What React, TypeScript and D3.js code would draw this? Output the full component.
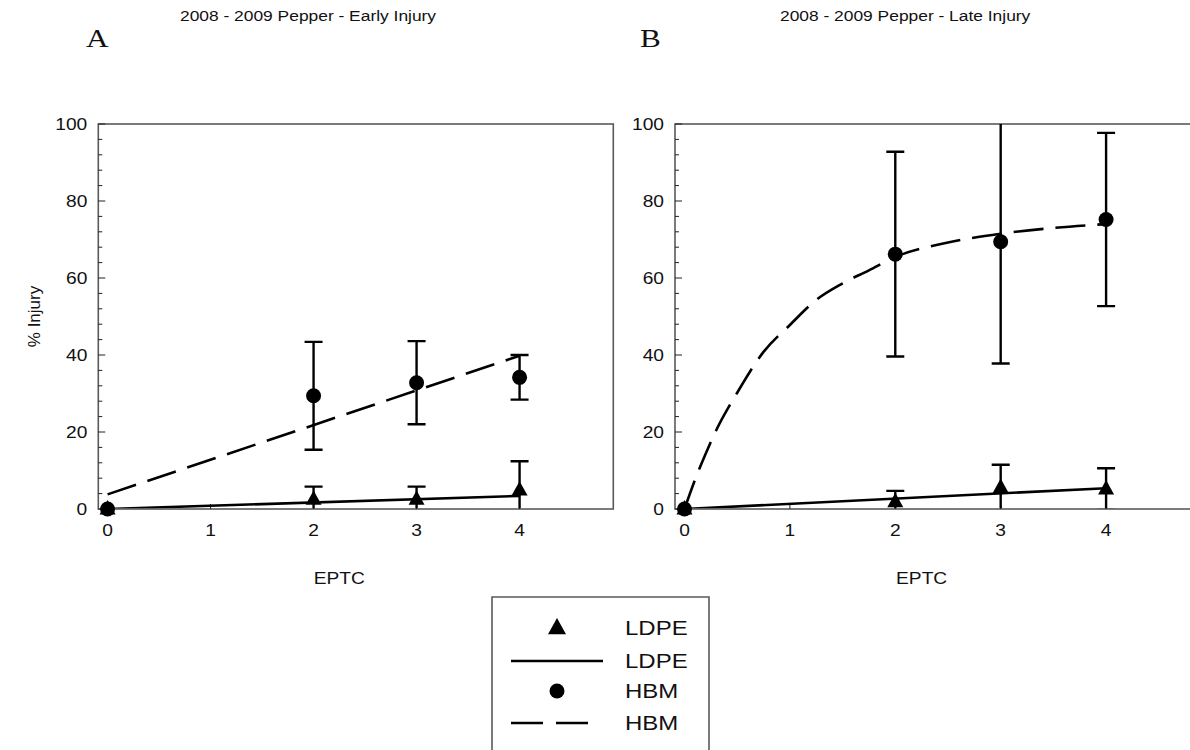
import React from "react";
import * as d3 from "d3";

// EPTC rates (x) at which injury was rated
const doses = [0, 2, 3, 4];

// Early injury (%), means and error half-widths
const ldpeEarly = [0, 2.5, 2.5, 4.9];
const ldpeEarlyErr = [0, 3.3, 3.3, 7.5];
const hbmEarly = [0, 29.4, 32.8, 34.2];
const hbmEarlyErr = [0, 14.0, 10.8, 5.8];

// Late injury (%), means and error half-widths
const ldpeLate = [0, 1.9, 5.6, 5.2];
const ldpeLateErr = [0, 2.8, 5.9, 5.4];
const hbmLate = [0, 66.2, 69.4, 75.2];
const hbmLateErr = [0, 26.6, 31.6, 22.5];

// Regression lines
const ldpeEarlyFitX = [0, 4];
const ldpeEarlyFitY = [0, 3.4];
const hbmEarlyFitX = [0, 4];
const hbmEarlyFitY = [3.8, 39.8];
const ldpeLateFitX = [0, 4];
const ldpeLateFitY = [0, 5.4];
const hbmLateFitX = [0, 0.1, 0.2, 0.3, 0.5, 0.75, 1, 1.25, 1.5, 1.75, 2, 2.5, 3, 3.5, 4];
const hbmLateFitY = [0, 7.6, 14.3, 20.4, 30.2, 40.8, 47.8, 54.3, 58.6, 62, 65.5, 69.2, 71.5, 73, 74];

const xTicks = [0, 1, 2, 3, 4];
const yTicks = [0, 20, 40, 60, 80, 100];
const yMinorTicks = d3.range(0, 101, 4);

const legendItems = ["LDPE", "LDPE", "HBM", "HBM"];

const SANS = "'Liberation Sans', Arial, sans-serif";
const SERIF = "'Liberation Serif', 'Times New Roman', serif";
const SX = 1.2; // horizontal stretch of the lettering
const FRAME = "#5a5a5a";

type Panel = {
  key: string;
  letter: string;
  title: string;
  left: number;
  right: number;
  letterX: number;
  titleX: number;
  yLabel: boolean;
  ldpe: number[];
  ldpeErr: number[];
  hbm: number[];
  hbmErr: number[];
  ldpeFit: [number[], number[]];
  hbmFit: [number[], number[]];
  smooth: boolean;
};

const panels: Panel[] = [
  {
    key: "a",
    letter: "A",
    title: "2008 - 2009 Pepper - Early Injury",
    left: 98.3,
    right: 613.3,
    letterX: 86,
    titleX: 180,
    yLabel: true,
    ldpe: ldpeEarly,
    ldpeErr: ldpeEarlyErr,
    hbm: hbmEarly,
    hbmErr: hbmEarlyErr,
    ldpeFit: [ldpeEarlyFitX, ldpeEarlyFitY],
    hbmFit: [hbmEarlyFitX, hbmEarlyFitY],
    smooth: false,
  },
  {
    key: "b",
    letter: "B",
    title: "2008 - 2009 Pepper - Late Injury",
    left: 675,
    right: 1202,
    letterX: 640,
    titleX: 780,
    yLabel: false,
    ldpe: ldpeLate,
    ldpeErr: ldpeLateErr,
    hbm: hbmLate,
    hbmErr: hbmLateErr,
    ldpeFit: [ldpeLateFitX, ldpeLateFitY],
    hbmFit: [hbmLateFitX, hbmLateFitY],
    smooth: true,
  },
];

const TOP = 124;
const BOTTOM = 509;

function Txt(props: {
  x: number;
  y: number;
  anchor?: string;
  size: number;
  family?: string;
  children: React.ReactNode;
}) {
  const { x, y, anchor = "start", size, family = SANS, children } = props;
  return (
    <text
      transform={`translate(${x},${y}) scale(${SX},1)`}
      textAnchor={anchor}
      fontFamily={family}
      fontSize={size}
      fill="#111"
    >
      {children}
    </text>
  );
}

function triPath(cx: number, cy: number, s: number) {
  const h = s * 0.9;
  return `M${cx},${cy - h * 0.62} L${cx + s / 2},${cy + h * 0.38} L${cx - s / 2},${cy + h * 0.38} Z`;
}

function PanelView({ p }: { p: Panel }) {
  const x = d3.scaleLinear().domain([-0.09, 4.91]).range([p.left, p.right]);
  const y = d3.scaleLinear().domain([0, 100]).range([BOTTOM, TOP]);
  const clipId = `clip-${p.key}`;

  const line = d3
    .line<[number, number]>()
    .x((d) => x(d[0]))
    .y((d) => y(d[1]))
    .curve(p.smooth ? d3.curveMonotoneX : d3.curveLinear);

  const ldpeFitPts = p.ldpeFit[0].map((v, i) => [v, p.ldpeFit[1][i]] as [number, number]);
  const hbmFitPts = p.hbmFit[0].map((v, i) => [v, p.hbmFit[1][i]] as [number, number]);

  const errBars = (means: number[], errs: number[], k: string) =>
    doses.map((d, i) =>
      errs[i] > 0 ? (
        <g key={`${k}-${i}`} stroke="#000" strokeWidth={2.4}>
          <line x1={x(d)} x2={x(d)} y1={y(means[i] - errs[i])} y2={y(means[i] + errs[i])} />
          <line x1={x(d) - 9} x2={x(d) + 9} y1={y(means[i] + errs[i])} y2={y(means[i] + errs[i])} />
          <line x1={x(d) - 9} x2={x(d) + 9} y1={y(means[i] - errs[i])} y2={y(means[i] - errs[i])} />
        </g>
      ) : null
    );

  return (
    <g>
      <defs>
        <clipPath id={clipId}>
          <rect x={p.left} y={TOP} width={p.right - p.left} height={BOTTOM - TOP - 0.8} />
        </clipPath>
      </defs>

      {/* panel letter and title */}
      <Txt x={p.letterX} y={47} size={26} family={SERIF}>
        {p.letter}
      </Txt>
      <Txt x={p.titleX} y={21} size={14.5}>
        {p.title}
      </Txt>

      {/* frame */}
      <rect
        x={p.left}
        y={TOP}
        width={p.right - p.left}
        height={BOTTOM - TOP}
        fill="none"
        stroke={FRAME}
        strokeWidth={1.6}
      />

      {/* y ticks */}
      {yMinorTicks.map((t) => (
        <line
          key={`ym${t}`}
          x1={p.left}
          x2={p.left + (t % 20 === 0 ? 7 : 4)}
          y1={y(t)}
          y2={y(t)}
          stroke="#222"
          strokeWidth={1}
        />
      ))}
      {yTicks.map((t) => (
        <Txt key={`yl${t}`} x={p.left - 11} y={y(t) + 6} size={16} anchor="end">
          {t}
        </Txt>
      ))}

      {/* x ticks */}
      {xTicks.map((t) => (
        <g key={`xt${t}`}>
          <line x1={x(t)} x2={x(t)} y1={BOTTOM} y2={BOTTOM - 5} stroke="#222" strokeWidth={1} />
          <Txt x={x(t)} y={536} size={16} anchor="middle">
            {t}
          </Txt>
        </g>
      ))}

      <Txt x={x(2.25)} y={584} size={16} anchor="middle">
        EPTC
      </Txt>

      {p.yLabel && (
        <text
          transform={`translate(40,${(TOP + BOTTOM) / 2}) rotate(-90)`}
          textAnchor="middle"
          fontFamily={SANS}
          fontSize={17}
          fill="#111"
        >
          % Injury
        </text>
      )}

      <g clipPath={`url(#${clipId})`}>
        <path d={line(ldpeFitPts) || ""} fill="none" stroke="#000" strokeWidth={2.6} />
        <path
          d={line(hbmFitPts) || ""}
          fill="none"
          stroke="#000"
          strokeWidth={2.6}
          strokeDasharray="30,12"
        />
        {errBars(p.ldpe, p.ldpeErr, "le")}
        {errBars(p.hbm, p.hbmErr, "he")}
      </g>

      {/* markers */}
      {doses.map((d, i) => (
        <path key={`tri${i}`} d={triPath(x(d), y(p.ldpe[i]), 16)} fill="#000" />
      ))}
      {doses.map((d, i) => (
        <circle key={`cir${i}`} cx={x(d)} cy={y(p.hbm[i])} r={7.5} fill="#000" />
      ))}
    </g>
  );
}

function Legend() {
  const left = 492;
  const right = 709;
  const top = 597;
  const rowY = [628, 661, 691, 723];
  const symX = 557;
  return (
    <g>
      <path
        d={`M${left},760 V${top} H${right} V760`}
        fill="none"
        stroke={FRAME}
        strokeWidth={1.6}
      />
      <path d={triPath(symX, rowY[0], 18)} fill="#000" />
      <line x1={511} x2={603} y1={rowY[1]} y2={rowY[1]} stroke="#000" strokeWidth={2.6} />
      <circle cx={symX} cy={rowY[2]} r={7.5} fill="#000" />
      <line
        x1={511}
        x2={589}
        y1={rowY[3]}
        y2={rowY[3]}
        stroke="#000"
        strokeWidth={2.6}
        strokeDasharray="32,13"
      />
      {legendItems.map((t, i) => (
        <Txt key={`lg${i}`} x={625} y={rowY[i] + 7} size={20}>
          {t}
        </Txt>
      ))}
    </g>
  );
}

export default function App() {
  return (
    <svg
      width={1190}
      height={750}
      style={{ position: "absolute", left: 0, top: 0, background: "#fff" }}
    >
      <rect x={0} y={0} width={1190} height={750} fill="#fff" />
      {panels.map((p) => (
        <PanelView key={p.key} p={p} />
      ))}
      <Legend />
    </svg>
  );
}
